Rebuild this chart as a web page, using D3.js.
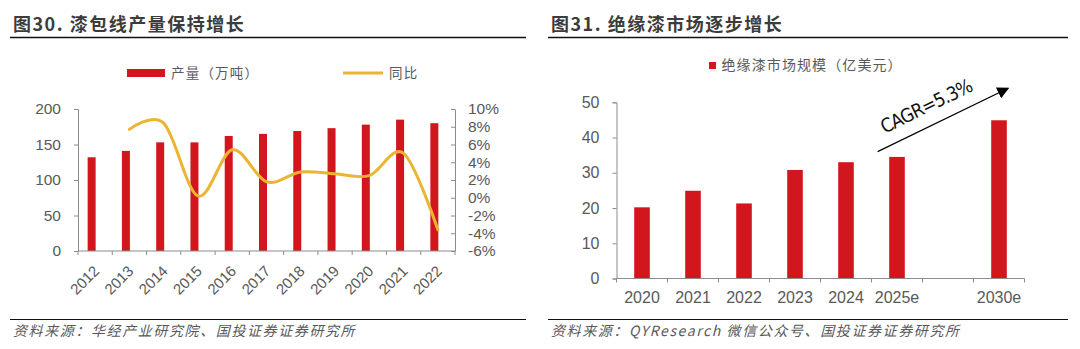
<!DOCTYPE html>
<html>
<head>
<meta charset="utf-8">
<script src="https://cdn.jsdelivr.net/npm/d3@7"></script>
<style>
  body { margin: 0; background: #fff; }
  svg { display: block; }
</style>
</head>
<body>
<svg width="1080" height="349"></svg>
<script>
// left chart: enamelled wire output + yoy
var years1 = ["2012", "2013", "2014", "2015", "2016", "2017", "2018", "2019", "2020", "2021", "2022"];
var output1 = [132, 141, 153, 153, 162, 165, 169, 173, 178, 185, 180];
var yoy1 = [null, 7.7, 8.4, 0.2, 5.4, 1.8, 2.9, 2.7, 2.5, 5.0, -3.6];
var leftTicks = [0, 50, 100, 150, 200];
var rightTicks = [-6, -4, -2, 0, 2, 4, 6, 8, 10];

// right chart: insulating varnish market size
var years2 = ["2020", "2021", "2022", "2023", "2024", "2025e", "gap", "2030e"];
var market2 = [20.2, 24.9, 21.3, 30.8, 33.0, 34.5, null, 44.9];
var marketTicks = [0, 10, 20, 30, 40, 50];

var RED = "#D2161E";
var GOLD = "#EBB532";
var GREY = "#595959";
var AXIS = "#8c8c8c";
var NUM_FONT = "'Liberation Sans', Arial, sans-serif";
var CJK_FONT = "'Noto Sans CJK SC', sans-serif";

var svg = d3.select("svg");

// ---- headers and footers ----
function frame(x0, x1, title, source) {
    svg.append("text")
        .attr("x", x0 + 3).attr("y", 31)
        .attr("font-family", CJK_FONT)
        .attr("font-size", 18)
        .attr("font-weight", 700)
        .attr("letter-spacing", 1.5)
        .attr("fill", "#3c3c3c")
        .text(title);
    svg.append("line")
        .attr("x1", x0).attr("x2", x1)
        .attr("y1", 37.5).attr("y2", 37.5)
        .attr("stroke", "#111").attr("stroke-width", 1.6);
    svg.append("line")
        .attr("x1", x0).attr("x2", x1)
        .attr("y1", 319.5).attr("y2", 319.5)
        .attr("stroke", "#111").attr("stroke-width", 1.2);
    svg.append("text")
        .attr("x", x0 + 3).attr("y", 336)
        .attr("font-family", CJK_FONT)
        .attr("font-size", 14)
        .attr("font-style", "italic")
        .attr("letter-spacing", 1.6)
        .attr("fill", GREY)
        .text(source);
}
frame(10, 526, "图30. 漆包线产量保持增长", "资料来源：华经产业研究院、国投证券证券研究所");
frame(548, 1068, "图31. 绝缘漆市场逐步增长", "资料来源：QYResearch 微信公众号、国投证券证券研究所");

function styleAxis(g, size) {
    g.select(".domain").attr("stroke", AXIS);
    g.selectAll(".tick line").attr("stroke", AXIS);
    g.selectAll(".tick text")
        .attr("fill", GREY)
        .attr("font-family", NUM_FONT)
        .attr("font-size", size);
}

// band boundaries for the category tick marks
function bandEdges(x) {
    var edges = x.domain().map(function (d) { return x(d); });
    edges.push(x.range()[1]);
    return edges;
}

// ---- left chart ----
var x1 = d3.scaleBand().domain(years1).range([78, 455]);
var yL = d3.scaleLinear().domain([0, 200]).range([251, 109]);
var yR = d3.scaleLinear().domain([-6, 10]).range([251, 109]);
var bw1 = x1.bandwidth();

var left = svg.append("g");

left.append("g")
    .selectAll("rect")
    .data(output1)
    .join("rect")
    .attr("x", function (d, i) { return x1(years1[i]) + bw1 / 2 - 7.5; })
    .attr("width", 8)
    .attr("y", function (d) { return yL(d); })
    .attr("height", function (d) { return yL(0) - yL(d); })
    .attr("fill", RED);

var gL = left.append("g")
    .attr("transform", "translate(78,0)")
    .call(d3.axisLeft(yL).tickValues(leftTicks).tickSize(4).tickPadding(13));
styleAxis(gL, 15.5);

var gR = left.append("g")
    .attr("transform", "translate(455,0)")
    .call(d3.axisRight(yR).tickValues(rightTicks).tickSizeInner(-4).tickSizeOuter(0).tickPadding(13)
        .tickFormat(function (d) { return d + "%"; }));
styleAxis(gR, 15.5);

left.append("line")
    .attr("x1", 78).attr("x2", 455)
    .attr("y1", yL(0)).attr("y2", yL(0))
    .attr("stroke", AXIS);
left.append("g")
    .selectAll("line")
    .data(bandEdges(x1))
    .join("line")
    .attr("x1", function (d) { return d; }).attr("x2", function (d) { return d; })
    .attr("y1", yL(0)).attr("y2", yL(0) + 4)
    .attr("stroke", AXIS);

left.append("g")
    .selectAll("text")
    .data(years1)
    .join("text")
    .attr("transform", function (d) {
        return "translate(" + (x1(d) + bw1 / 2 + 5) + ",272) rotate(-45)";
    })
    .attr("text-anchor", "end")
    .attr("font-family", NUM_FONT)
    .attr("font-size", 15)
    .attr("fill", GREY)
    .text(function (d) { return d; });

var yoyLine = d3.line()
    .defined(function (d) { return d != null; })
    .x(function (d, i) { return x1(years1[i]) + bw1 / 2; })
    .y(function (d) { return yR(d); })
    .curve(d3.curveCardinal.tension(0));

left.append("path")
    .datum(yoy1)
    .attr("d", yoyLine)
    .attr("fill", "none")
    .attr("stroke", GOLD)
    .attr("stroke-width", 3)
    .attr("stroke-linecap", "round");

// legend
left.append("rect")
    .attr("x", 127).attr("y", 69).attr("width", 38).attr("height", 8)
    .attr("fill", RED);
left.append("text")
    .attr("x", 171).attr("y", 78)
    .attr("font-family", CJK_FONT).attr("font-size", 13.5)
    .attr("letter-spacing", 1.2).attr("fill", GREY)
    .text("产量（万吨）");
left.append("line")
    .attr("x1", 343).attr("x2", 383).attr("y1", 73).attr("y2", 73)
    .attr("stroke", GOLD).attr("stroke-width", 3);
left.append("text")
    .attr("x", 389).attr("y", 78)
    .attr("font-family", CJK_FONT).attr("font-size", 13.5)
    .attr("letter-spacing", 1.2).attr("fill", GREY)
    .text("同比");

// ---- right chart ----
var x2 = d3.scaleBand().domain(years2).range([616.5, 1024.5]);
var y2 = d3.scaleLinear().domain([0, 50]).range([278.5, 102.3]);
var bw2 = x2.bandwidth();

var right = svg.append("g");

right.append("g")
    .selectAll("rect")
    .data(market2.filter(function (d) { return d != null; }))
    .join("rect")
    .attr("x", function (d) { return x2(years2[market2.indexOf(d)]) + bw2 / 2 - 7.8; })
    .attr("width", 15.6)
    .attr("y", function (d) { return y2(d); })
    .attr("height", function (d) { return y2(0) - y2(d); })
    .attr("fill", RED);

var gY2 = right.append("g")
    .attr("transform", "translate(616.5,0)")
    .call(d3.axisLeft(y2).tickValues(marketTicks).tickSize(4).tickPadding(13));
styleAxis(gY2, 16);

right.append("line")
    .attr("x1", 616.5).attr("x2", 1024.5)
    .attr("y1", y2(0)).attr("y2", y2(0))
    .attr("stroke", AXIS);
right.append("g")
    .selectAll("line")
    .data(bandEdges(x2))
    .join("line")
    .attr("x1", function (d) { return d; }).attr("x2", function (d) { return d; })
    .attr("y1", y2(0)).attr("y2", y2(0) + 4)
    .attr("stroke", AXIS);

right.append("g")
    .selectAll("text")
    .data(years2.filter(function (d) { return d !== "gap"; }))
    .join("text")
    .attr("x", function (d) { return x2(d) + bw2 / 2; })
    .attr("y", 303)
    .attr("text-anchor", "middle")
    .attr("font-family", NUM_FONT)
    .attr("font-size", 16)
    .attr("fill", GREY)
    .text(function (d) { return d; });

// CAGR arrow from 2025e up past 2030e
svg.append("defs").append("marker")
    .attr("id", "head")
    .attr("viewBox", "0 0 10 10")
    .attr("refX", 9).attr("refY", 5)
    .attr("markerWidth", 12).attr("markerHeight", 12)
    .attr("markerUnits", "userSpaceOnUse")
    .attr("orient", "auto")
    .append("path")
    .attr("d", "M0,0L10,5L0,10z")
    .attr("fill", "#000");

var ax0 = x2("2025e") + bw2 * 0.12, ay0 = y2(36);
var ax1 = x2("2030e") + bw2 * 0.68, ay1 = y2(54);
right.append("line")
    .attr("x1", ax0).attr("y1", ay0)
    .attr("x2", ax1).attr("y2", ay1)
    .attr("stroke", "#000").attr("stroke-width", 1.2)
    .attr("marker-end", "url(#head)");

var ang = Math.atan2(ay1 - ay0, ax1 - ax0);
var ux = Math.cos(ang), uy = Math.sin(ang);
var tx = ax0 + 14 * ux + 13 * uy, ty = ay0 + 14 * uy - 13 * ux;
right.append("text")
    .attr("transform", "translate(" + tx + "," + ty + ") rotate(" + (ang * 180 / Math.PI) + ")")
    .attr("font-family", "'Liberation Sans Narrow', 'DejaVu Sans Condensed', sans-serif")
    .attr("font-size", 19)
    .attr("textLength", 100)
    .attr("lengthAdjust", "spacing")
    .attr("fill", "#111")
    .text("CAGR=5.3%");

// legend
right.append("rect")
    .attr("x", 709).attr("y", 62).attr("width", 7).attr("height", 7)
    .attr("fill", RED);
right.append("text")
    .attr("x", 721.5).attr("y", 70)
    .attr("font-family", CJK_FONT).attr("font-size", 14)
    .attr("letter-spacing", 1.1).attr("fill", GREY)
    .text("绝缘漆市场规模（亿美元）");
</script>
</body>
</html>
